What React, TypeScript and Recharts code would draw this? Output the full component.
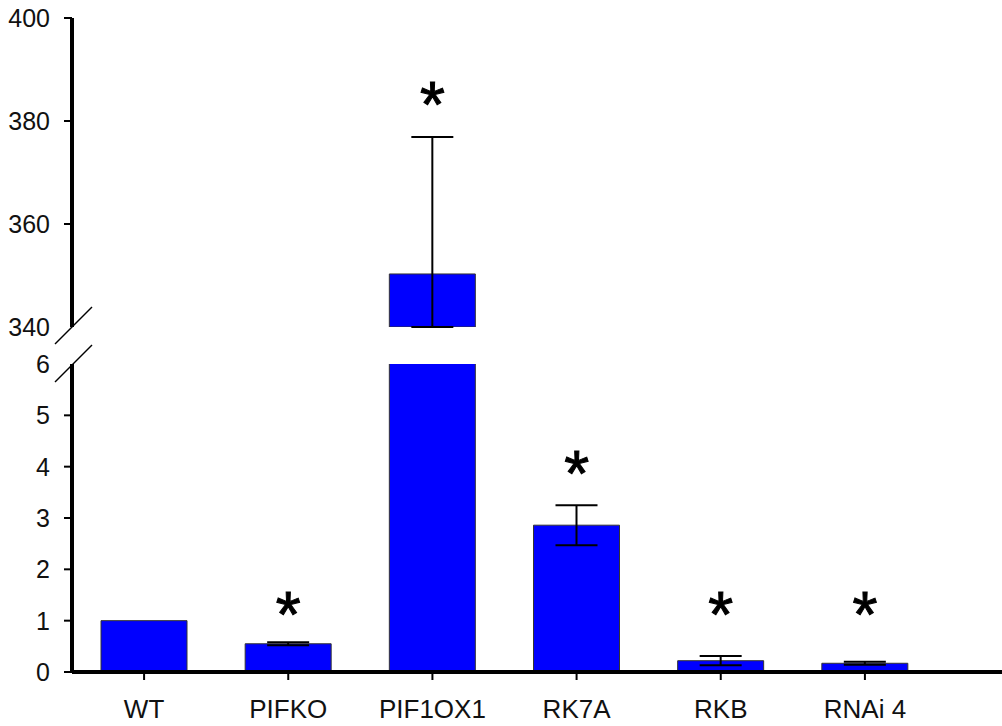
import { ComposedChart, Bar, XAxis, YAxis, ErrorBar, Scatter } from 'recharts'

const categories = ['WT', 'PIFKO', 'PIF1OX1', 'RK7A', 'RKB', 'RNAi 4']
const means = [1, 0.55, 350.3, 2.86, 0.22, 0.17]
const errors = [null, 0.03, 26.6, 0.39, 0.09, 0.03]
const stars = [null, 1.4, 386, 4.14, 1.4, 1.4]
const lowerTicks = [0, 1, 2, 3, 4, 5, 6]
const upperTicks = [340, 360, 380, 400]

const BREAK_LOW = 6
const BREAK_HIGH = 340

const W = 1002
const H = 726
const AXIS_X = 72
const UPPER_TOP = 18
const UPPER_BOTTOM = 327
const LOWER_TOP = 364
const LOWER_BOTTOM = 672
const FONT = '"Liberation Sans", Arial, sans-serif'

// upper panel: error whisker stops at the axis break
const upperData = categories.map((name, i) => {
  const m = means[i]
  const e = errors[i]
  const show = m >= BREAK_HIGH
  return {
    name,
    value: show ? m : null,
    err: show && e !== null ? [Math.min(e, m - BREAK_HIGH), e] : null,
    star: stars[i] !== null && stars[i]! >= BREAK_HIGH ? stars[i] : null,
  }
})

const lowerData = categories.map((name, i) => ({
  name,
  value: means[i],
  err: means[i] >= BREAK_HIGH ? null : errors[i],
  star: stars[i] !== null && stars[i]! <= BREAK_LOW ? stars[i] : null,
}))

const makeYTick = (skip: number) => (props: any) => {
  const { y, payload } = props
  return (
    <g>
      {payload.value !== skip && (
        <line x1={AXIS_X - 8} x2={AXIS_X} y1={y} y2={y} stroke="#000" strokeWidth={2} />
      )}
      <text x={AXIS_X - 22} y={y} dy="0.355em" textAnchor="end" fontSize={25} fill="#111" fontFamily={FONT}>
        {payload.value}
      </text>
    </g>
  )
}

const Star = (props: any) => {
  const { cx, cy, payload } = props
  if (payload.star === null || cx == null || cy == null) return null
  return (
    <text
      x={cx}
      y={cy + 0.57 * 64}
      textAnchor="middle"
      fontSize={64}
      fill="#000"
      stroke="#000"
      strokeWidth={1}
      fontFamily={FONT}
    >
      *
    </text>
  )
}

const barProps = {
  dataKey: 'value',
  fill: '#0000FF',
  stroke: '#333',
  strokeWidth: 1,
  barSize: 86,
  isAnimationActive: false,
}

const errProps = {
  dataKey: 'err',
  width: 21,
  stroke: '#000',
  strokeWidth: 2,
  direction: 'y' as const,
}

const xPadding = { left: 0, right: 65 }

export default function App() {
  const upperH = 340
  const lowerTopOffset = 340
  const lowerH = H - lowerTopOffset
  const xAxisH = H - LOWER_BOTTOM
  return (
    <div style={{ position: 'absolute', left: 0, top: 0, width: W, height: H, background: '#fff', fontFamily: FONT }}>
      <div style={{ position: 'absolute', left: 0, top: 0 }}>
        <ComposedChart
          width={W}
          height={upperH}
          data={upperData}
          margin={{ top: UPPER_TOP, right: 0, bottom: upperH - UPPER_BOTTOM, left: 0 }}
        >
          <XAxis dataKey="name" hide padding={xPadding} />
          <YAxis
            width={AXIS_X}
            domain={[BREAK_HIGH, 400]}
            ticks={upperTicks}
            allowDataOverflow
            interval={0}
            tickLine={false}
            axisLine={{ stroke: '#000', strokeWidth: 4 }}
            tick={makeYTick(BREAK_HIGH)}
          />
          <Bar {...barProps}>
            <ErrorBar {...errProps} />
          </Bar>
          <Scatter dataKey="star" shape={Star} isAnimationActive={false} />
        </ComposedChart>
      </div>
      <div style={{ position: 'absolute', left: 0, top: lowerTopOffset }}>
        <ComposedChart
          width={W}
          height={lowerH}
          data={lowerData}
          margin={{ top: LOWER_TOP - lowerTopOffset, right: 0, bottom: 0, left: 0 }}
        >
          <XAxis
            dataKey="name"
            height={xAxisH}
            padding={xPadding}
            interval={0}
            tickSize={8}
            tickMargin={20}
            tickLine={{ stroke: '#000', strokeWidth: 2 }}
            axisLine={{ stroke: '#000', strokeWidth: 4 }}
            tick={{ fontSize: 26, fill: '#111', fontFamily: FONT }}
          />
          <YAxis
            width={AXIS_X}
            domain={[0, BREAK_LOW]}
            ticks={lowerTicks}
            allowDataOverflow
            interval={0}
            tickLine={false}
            axisLine={{ stroke: '#000', strokeWidth: 4 }}
            tick={makeYTick(BREAK_LOW)}
          />
          <Bar {...barProps}>
            <ErrorBar {...errProps} />
          </Bar>
          <Scatter dataKey="star" shape={Star} isAnimationActive={false} />
        </ComposedChart>
      </div>
      <svg width={W} height={H} style={{ position: 'absolute', left: 0, top: 0, pointerEvents: 'none' }}>
        <line x1={AXIS_X - 17} y1={UPPER_BOTTOM + 17} x2={AXIS_X + 20} y2={UPPER_BOTTOM - 20} stroke="#000" strokeWidth={1.5} />
        <line x1={AXIS_X - 17} y1={LOWER_TOP + 18} x2={AXIS_X + 20} y2={LOWER_TOP - 19} stroke="#000" strokeWidth={1.5} />
      </svg>
    </div>
  )
}
